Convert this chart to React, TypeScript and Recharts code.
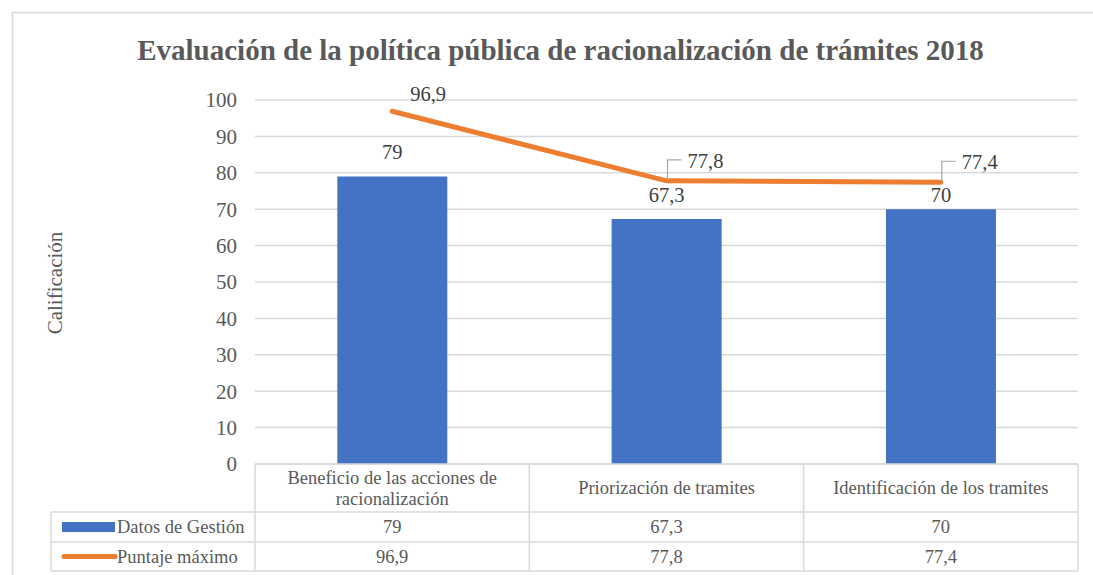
import React from "react";
import {
  ComposedChart,
  Bar,
  Line,
  XAxis,
  YAxis,
  CartesianGrid,
  LabelList,
  Customized,
} from "recharts";

// ---------- data ----------
const categories = [
  "Beneficio de las acciones de racionalización",
  "Priorización de tramites",
  "Identificación de los tramites",
];
const datosGestion = [79, 67.3, 70];
const puntajeMaximo = [96.9, 77.8, 77.4];
const seriesNames = ["Datos de Gestión", "Puntaje máximo"];
const yTicks = [0, 10, 20, 30, 40, 50, 60, 70, 80, 90, 100];
const chartTitle = "Evaluación de la política pública de racionalización de trámites 2018";
const yAxisTitle = "Calificación";

const data = categories.map((name, i) => ({
  name,
  gestion: datosGestion[i],
  maximo: puntajeMaximo[i],
}));

// ---------- style ----------
const FONT = '"Liberation Serif", "Times New Roman", serif';
const TEXT = "#595959";
const LABEL = "#404040";
const BORDER = "#d9d9d9";
const BLUE = "#4472C4";
const ORANGE = "#ED7D31";
const LEADER = "#a6a6a6";

const fmt = (v: number) => String(v).replace(".", ",");

function wrap(text: string, maxChars: number): string[] {
  const words = text.split(" ");
  const lines: string[] = [];
  let cur = "";
  for (const w of words) {
    const next = cur ? cur + " " + w : w;
    if (next.length > maxChars && cur) {
      lines.push(cur);
      cur = w;
    } else cur = next;
  }
  if (cur) lines.push(cur);
  return lines;
}

const TableTick = (props: any) => {
  const { x, y, payload } = props;
  const index = payload?.index ?? props.index ?? 0;
  const half = payload?.offset ?? 0;
  const left = x - half;
  const right = x + half;
  const headerH = 48;
  const rowH = 30;
  const row2H = 29;
  const r1 = y + headerH;
  const r2 = r1 + rowH;
  const r3 = r2 + row2H;
  const lines = wrap(String(payload.value), 31);
  const headerMid = y + headerH / 2;
  const lh = 21;
  const legendLeft = left - 204;
  const fs = 18.5;
  return (
    <g>
      {lines.map((ln, k) => (
        <text
          key={k}
          x={x}
          y={headerMid + (k - (lines.length - 1) / 2) * lh}
          textAnchor="middle"
          dominantBaseline="central"
          fill={TEXT}
          fontSize={fs}
          fontFamily={FONT}
        >
          {ln}
        </text>
      ))}
      <text x={x} y={r1 + rowH / 2} textAnchor="middle" dominantBaseline="central" fill={TEXT} fontSize={fs} fontFamily={FONT}>
        {fmt(datosGestion[index])}
      </text>
      <text x={x} y={r2 + row2H / 2} textAnchor="middle" dominantBaseline="central" fill={TEXT} fontSize={fs} fontFamily={FONT}>
        {fmt(puntajeMaximo[index])}
      </text>
      <line x1={left} x2={right} y1={y} y2={y} stroke={BORDER} strokeWidth={1.5} />
      <line x1={left} x2={right} y1={r1} y2={r1} stroke={BORDER} strokeWidth={1.5} />
      <line x1={left} x2={right} y1={r2} y2={r2} stroke={BORDER} strokeWidth={1.5} />
      <line x1={left} x2={right} y1={r3} y2={r3} stroke={BORDER} strokeWidth={1.5} />
      <line x1={right} x2={right} y1={y} y2={r3} stroke={BORDER} strokeWidth={1.5} />
      {index === 0 && (
        <g>
          <line x1={left} x2={left} y1={y} y2={r3} stroke={BORDER} strokeWidth={1.5} />
          <line x1={legendLeft} x2={left} y1={r1} y2={r1} stroke={BORDER} strokeWidth={1.5} />
          <line x1={legendLeft} x2={left} y1={r2} y2={r2} stroke={BORDER} strokeWidth={1.5} />
          <line x1={legendLeft} x2={left} y1={r3} y2={r3} stroke={BORDER} strokeWidth={1.5} />
          <line x1={legendLeft} x2={legendLeft} y1={r1} y2={r3} stroke={BORDER} strokeWidth={1.5} />
          <rect x={legendLeft + 11} y={r1 + rowH / 2 - 5} width={53} height={10} fill={BLUE} />
          <line
            x1={legendLeft + 13}
            x2={legendLeft + 64}
            y1={r2 + row2H / 2}
            y2={r2 + row2H / 2}
            stroke={ORANGE}
            strokeWidth={5}
            strokeLinecap="round"
          />
          <text x={legendLeft + 66} y={r1 + rowH / 2} dominantBaseline="central" fill={TEXT} fontSize={fs} fontFamily={FONT}>
            {seriesNames[0]}
          </text>
          <text x={legendLeft + 66} y={r2 + row2H / 2} dominantBaseline="central" fill={TEXT} fontSize={fs} fontFamily={FONT}>
            {seriesNames[1]}
          </text>
        </g>
      )}
    </g>
  );
};

const BarLabel = (props: any) => {
  const vb = props.viewBox && props.viewBox.width !== undefined ? props.viewBox : props;
  const { x, y, width, height } = vb;
  const index = props.index ?? 0;
  const value = Number(props.value);
  const cx = x + width / 2;
  const bottom = y + height;
  const pxPerUnit = height / value;
  const lineY = bottom - puntajeMaximo[index] * pxPerUnit;
  let base = y - 17;
  const top = base - 15;
  if (lineY > top - 3 && lineY < base + 3) base = lineY + 20;
  return (
    <text x={cx} y={base} textAnchor="middle" fill={LABEL} fontSize={20.5} fontFamily={FONT}>
      {fmt(value)}
    </text>
  );
};

const LineLabel = (props: any) => {
  const { x, y, value } = props;
  const index = props.index ?? 0;
  if (index === 0) {
    return (
      <text x={x + 36} y={y - 10} textAnchor="middle" fill={LABEL} fontSize={20.5} fontFamily={FONT}>
        {fmt(Number(value))}
      </text>
    );
  }
  return (
    <g>
      <path d={`M${x + 1},${y - 1} V${y - 21} H${x + 15}`} stroke={LEADER} strokeWidth={1.2} fill="none" />
      <text x={x + 21} y={y - 13} textAnchor="start" fill={LABEL} fontSize={20.5} fontFamily={FONT}>
        {fmt(Number(value))}
      </text>
    </g>
  );
};

const Overlay = () => (
  <g>
    <rect x={12.5} y={12.5} width={1200} height={700} fill="none" stroke={BORDER} strokeWidth={1.5} />
    <text x={560.5} y={60} textAnchor="middle" fill={TEXT} fontSize={29} fontWeight="bold" fontFamily={FONT}>
      {chartTitle}
    </text>
    <text
      x={0}
      y={0}
      transform="translate(62,283) rotate(-90)"
      textAnchor="middle"
      fill={TEXT}
      fontSize={21}
      fontFamily={FONT}
    >
      {yAxisTitle}
    </text>
  </g>
);

export default function App() {
  return (
    <div style={{ position: "absolute", left: 0, top: 0, width: 1093, height: 575, background: "#fff" }}>
      <ComposedChart
        width={1093}
        height={575}
        data={data}
        margin={{ top: 100, right: 15, bottom: 0, left: 195 }}
        barCategoryGap="30%"
      >
        <Customized component={Overlay} />
        <CartesianGrid vertical={false} stroke={BORDER} strokeWidth={1.5} />
        <XAxis
          dataKey="name"
          axisLine={false}
          tickLine={false}
          tickSize={0}
          tickMargin={0}
          height={111}
          interval={0}
          tick={<TableTick />}
        />
        <YAxis
          domain={[0, 100]}
          ticks={yTicks}
          interval={0}
          axisLine={false}
          tickLine={false}
          tickSize={0}
          tickMargin={18}
          width={60}
          tick={{ fill: TEXT, fontSize: 21, fontFamily: FONT }}
        />
        <Bar dataKey="gestion" fill={BLUE} isAnimationActive={false}>
          <LabelList dataKey="gestion" content={<BarLabel />} />
        </Bar>
        <Line
          dataKey="maximo"
          type="linear"
          stroke={ORANGE}
          strokeWidth={5}
          strokeLinecap="round"
          dot={false}
          activeDot={false}
          isAnimationActive={false}
        >
          <LabelList dataKey="maximo" content={<LineLabel />} />
        </Line>
      </ComposedChart>
    </div>
  );
}
